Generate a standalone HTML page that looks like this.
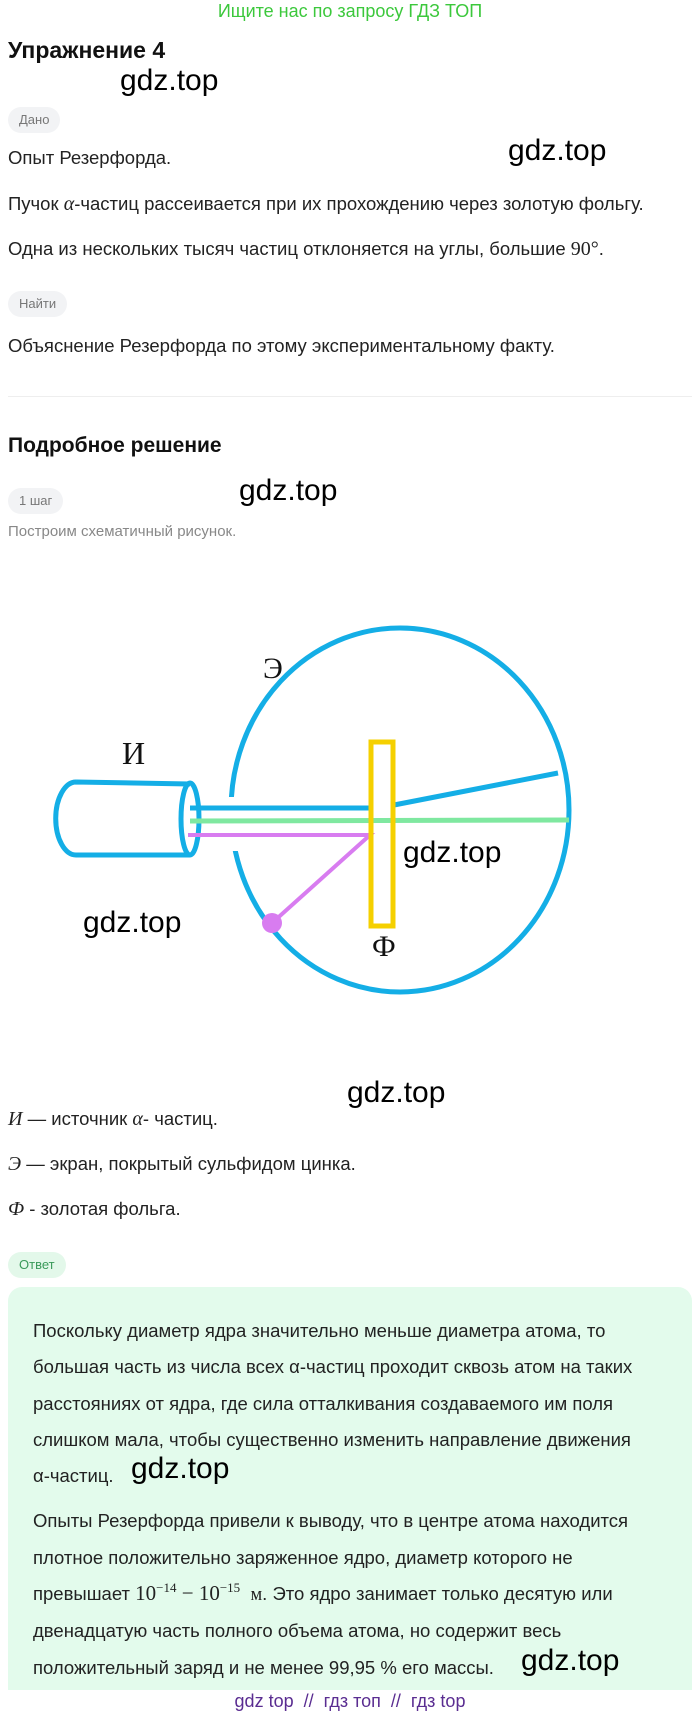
<!DOCTYPE html>
<html><head><meta charset="utf-8">
<style>
body{margin:0;width:700px;height:1718px;background:#fff;font-family:"Liberation Sans",sans-serif;color:#222;position:relative;overflow:hidden}
.a{position:absolute;white-space:nowrap}
.t{font-size:18.5px;color:#222}
.pill{position:absolute;background:#f2f3f5;color:#777;font-size:13px;border-radius:14px;height:26px;line-height:26px;padding:0 11px}
.w{position:absolute;font-size:30px;color:#000;white-space:nowrap}
.m{font-family:"Liberation Serif",serif;font-style:italic;font-size:20px}
</style></head><body>
<div class="a" style="left:0;width:700px;text-align:center;top:1px;font-size:18px;color:#3cc83c">Ищите нас по запросу ГДЗ ТОП</div>
<div class="a" style="left:8px;top:37px;font-size:23px;font-weight:bold;color:#111">Упражнение 4</div>
<div class="w" style="left:120px;top:64px">gdz.top</div>
<div class="pill" style="left:8px;top:107px">Дано</div>
<div class="a t" style="left:8px;top:147px">Опыт Резерфорда.</div>
<div class="w" style="left:508px;top:134px">gdz.top</div>
<div class="a t" style="left:8px;top:193px">Пучок <span class="m">α</span>-частиц рассеивается при их прохождению через золотую фольгу.</div>
<div class="a t" style="left:8px;top:238px">Одна из нескольких тысяч частиц отклоняется на углы, большие <span style="font-family:'Liberation Serif',serif;font-size:20px">90°</span>.</div>
<div class="pill" style="left:8px;top:291px">Найти</div>
<div class="a t" style="left:8px;top:335px">Объяснение Резерфорда по этому экспериментальному факту.</div>
<div class="a" style="left:8px;top:396px;width:684px;height:1px;background:#eee"></div>
<div class="a" style="left:8px;top:434px;font-size:21px;font-weight:bold;color:#111">Подробное решение</div>
<div class="pill" style="left:8px;top:488px">1 шаг</div>
<div class="w" style="left:239px;top:474px">gdz.top</div>
<div class="a" style="left:8px;top:523px;font-size:15px;color:#888">Построим схематичный рисунок.</div>

<svg class="a" style="left:0;top:600px" width="700" height="450" viewBox="0 600 700 450">
<ellipse cx="400" cy="810" rx="169" ry="182" fill="none" stroke="#14aee6" stroke-width="5"/>
<rect x="222" y="797" width="20" height="54" fill="#fff"/>
<path d="M76,782 L190,784 M76,855 L190,855 M76,782 A20,36 0 0 0 76,855" fill="none" stroke="#14aee6" stroke-width="5"/>
<ellipse cx="190" cy="819" rx="9" ry="36" fill="none" stroke="#14aee6" stroke-width="5"/>
<line x1="190" y1="808" x2="370" y2="808" stroke="#14aee6" stroke-width="5"/>
<line x1="394" y1="805" x2="558" y2="773" stroke="#14aee6" stroke-width="5"/>
<line x1="190" y1="821" x2="569" y2="820" stroke="#7fe8a0" stroke-width="5"/>
<polyline points="188,835 370,835 272,923" fill="none" stroke="#d87cf0" stroke-width="4"/>
<circle cx="272" cy="923" r="10" fill="#d87cf0"/>
<rect x="371" y="742" width="22" height="184" fill="none" stroke="#f5d000" stroke-width="5"/>
<text x="263" y="678" font-family="Liberation Serif" font-size="30" fill="#111">Э</text>
<text x="122" y="764" font-family="Liberation Serif" font-size="32" fill="#111">И</text>
<text x="372" y="956" font-family="Liberation Serif" font-size="30" fill="#111">Ф</text>
<text x="403" y="862" font-family="Liberation Sans" font-size="30" fill="#000">gdz.top</text>
<text x="83" y="932" font-family="Liberation Sans" font-size="30" fill="#000">gdz.top</text>
</svg>

<div class="w" style="left:347px;top:1076px">gdz.top</div>
<div class="a t" style="left:8px;top:1108px"><span class="m">И</span> — источник <span class="m">α</span>- частиц.</div>
<div class="a t" style="left:8px;top:1153px"><span class="m">Э</span> — экран, покрытый сульфидом цинка.</div>
<div class="a t" style="left:8px;top:1198px"><span class="m">Ф</span> - золотая фольга.</div>
<div class="pill" style="left:8px;top:1252px;background:#e3f8ea;color:#3a9a5a">Ответ</div>
<div class="a" style="left:8px;top:1287px;width:684px;height:403px;background:#e3fbec;border-radius:14px 14px 0 0"></div>
<div class="a" style="left:33px;top:1313px;font-size:18.5px;line-height:36.3px;color:#222;white-space:normal;width:660px">
Поскольку диаметр ядра значительно меньше диаметра атома, то<br>
большая часть из числа всех α-частиц проходит сквозь атом на таких<br>
расстояниях от ядра, где сила отталкивания создаваемого им поля<br>
слишком мала, чтобы существенно изменить направление движения<br>
α-частиц.<br>
<div style="height:9px"></div>
Опыты Резерфорда привели к выводу, что в центре атома находится<br>
плотное положительно заряженное ядро, диаметр которого не<br>
превышает <span style="font-family:'Liberation Serif',serif;font-size:21px;line-height:0">10<sup style="font-size:13px;line-height:0">−14</sup> − 10<sup style="font-size:13px;line-height:0">−15</sup></span> &nbsp;<span style="font-family:'Liberation Serif',serif">м</span>. Это ядро занимает только десятую или<br>
двенадцатую часть полного объема атома, но содержит весь<br>
положительный заряд и не менее 99,95 % его массы.
</div>
<div class="w" style="left:131px;top:1452px">gdz.top</div>
<div class="w" style="left:521px;top:1644px">gdz.top</div>
<div class="a" style="left:0;width:700px;text-align:center;top:1691px;font-size:18px;color:#5a2d91">gdz top &nbsp;// &nbsp;гдз топ &nbsp;// &nbsp;гдз top</div>
</body></html>
